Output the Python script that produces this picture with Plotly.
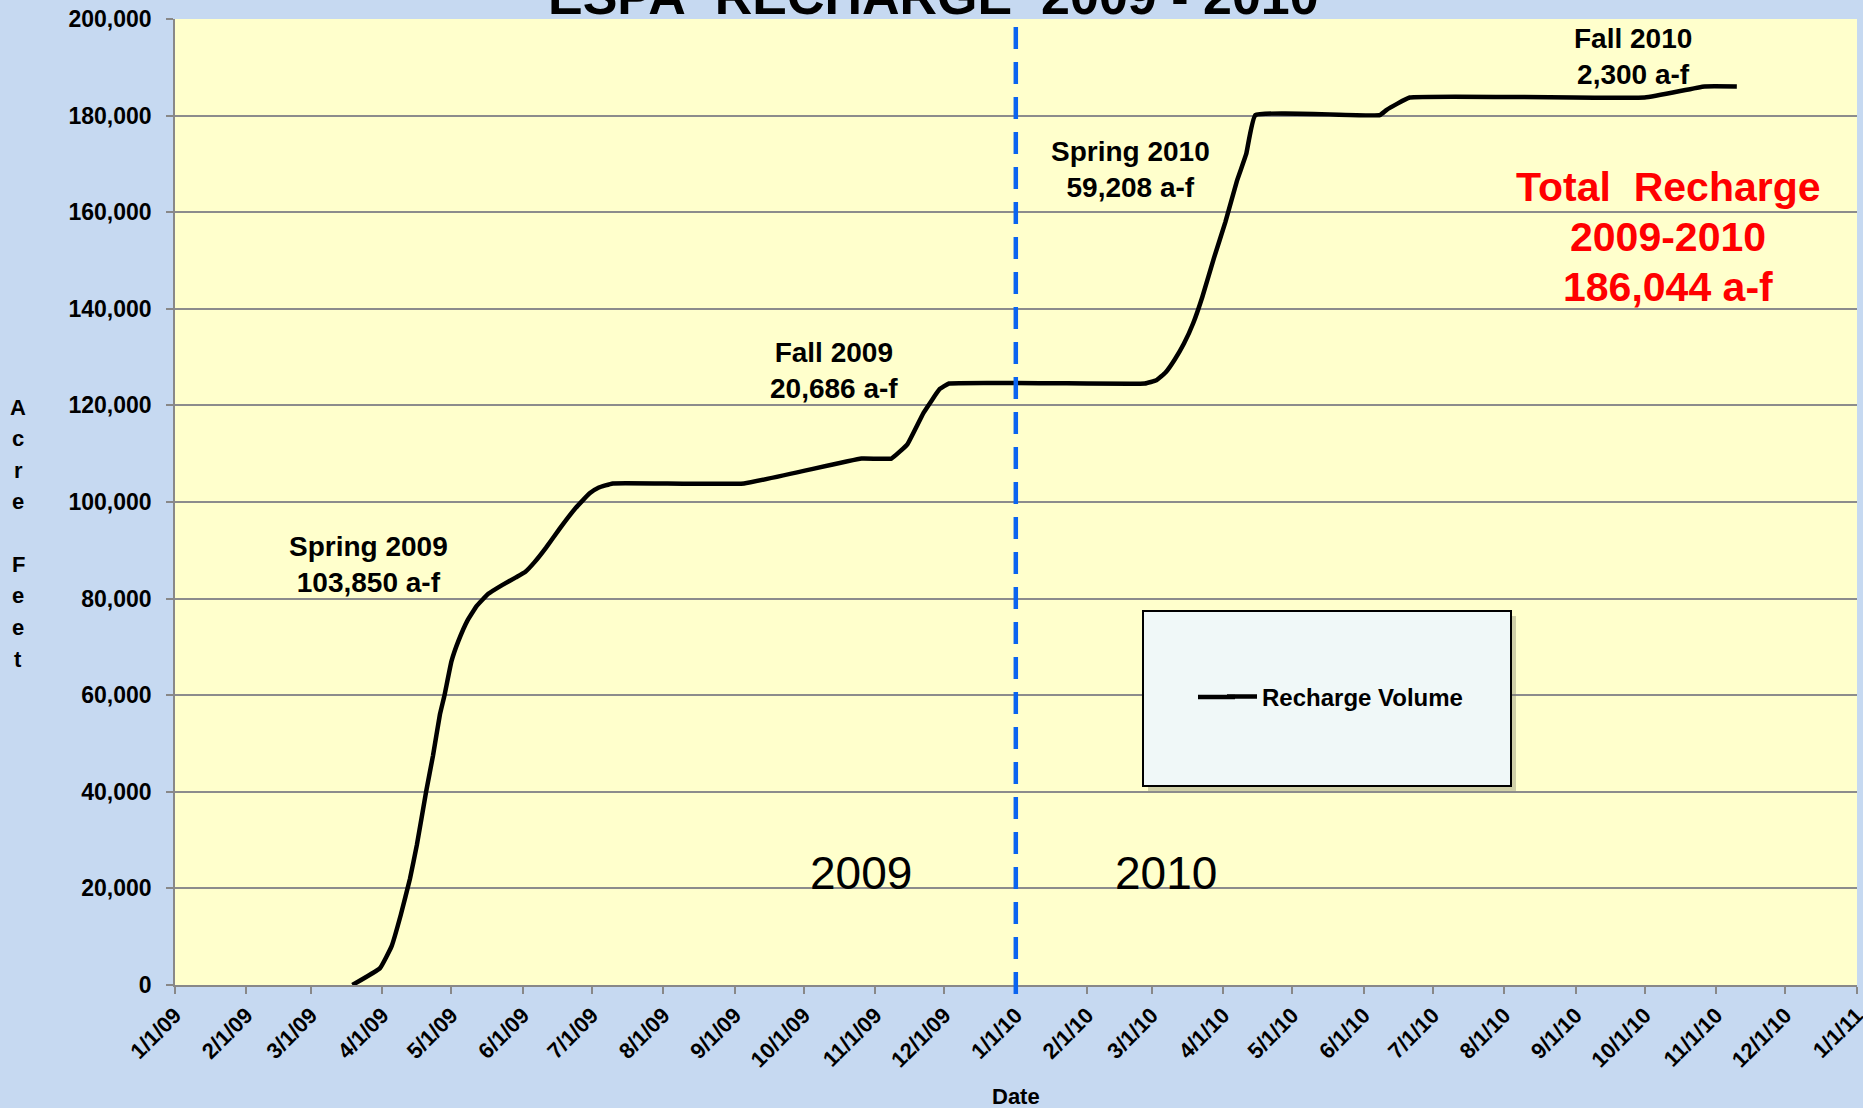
import plotly.graph_objects as go

# ---- data ----
dates = [
    "2009-03-19", "2009-03-31", "2009-04-05", "2009-04-09", "2009-04-13", "2009-04-16",
    "2009-04-20", "2009-04-23", "2009-04-26", "2009-04-28", "2009-05-01", "2009-05-04",
    "2009-05-08", "2009-05-12", "2009-05-17", "2009-05-23", "2009-05-29", "2009-06-02",
    "2009-06-06", "2009-06-11", "2009-06-17", "2009-06-24", "2009-06-30", "2009-07-04",
    "2009-07-10", "2009-09-05", "2009-10-26", "2009-11-08", "2009-11-15", "2009-11-22",
    "2009-11-29", "2009-12-03", "2010-02-26", "2010-03-03", "2010-03-07", "2010-03-11",
    "2010-03-15", "2010-03-19", "2010-03-23", "2010-03-28", "2010-04-02", "2010-04-07",
    "2010-04-11", "2010-04-15", "2010-06-08", "2010-06-11", "2010-06-21", "2010-10-01",
    "2010-10-27", "2010-11-10",
]
recharge = [
    0, 3500, 8000, 14500, 22000, 29000,
    40000, 47500, 56000, 60000, 67000, 71200,
    75500, 78500, 81000, 82800, 84400, 85500,
    87500, 90500, 94500, 98800, 101800, 103000,
    103850, 103850, 109000, 109000, 112000, 118500,
    123400, 124536, 124536, 125200, 126800, 129500,
    132800, 137000, 142500, 150500, 158000, 166500,
    172000, 180100, 180100, 181200, 183744, 183744,
    186044, 186044,
]
series_name = "Recharge Volume"
title_text = "ESPA\u00a0\u00a0RECHARGE\u00a0\u00a02009\u00a0-\u00a02010"
season_labels = ["Spring 2009<br>103,850 a-f", "Fall 2009<br>20,686 a-f",
                 "Spring 2010<br>59,208 a-f", "Fall 2010<br>2,300 a-f"]
season_x = ["2009-03-26", "2009-10-14", "2010-02-20", "2010-09-26"]
season_y = [87000, 127300, 168900, 192250]
year_labels = ["2009", "2010"]
year_x = ["2009-10-26", "2010-03-07"]
total_lines = ["Total\u00a0\u00a0Recharge", "2009-2010", "186,044 a-f"]
divider_date = "2010-01-01"

# ---- figure geometry ----
W, H = 1863, 1108
L, R, T, B = 175, 6, 19, 123
PW, PH = W - L - R, H - T - B

def px_x(p):
    return (p - L) / PW

def px_y(p):
    return (H - B - p) / PH

FONT = "Liberation Sans, Arial, sans-serif"

fig = go.Figure()
fig.add_trace(go.Scatter(
    x=dates, y=recharge, mode="lines", name=series_name,
    line=dict(color="black", width=4.5, shape="spline", smoothing=0.3),
    showlegend=True,
))

annotations = []
# title (partially cut off at top, as in reference)
annotations.append(dict(text="<b>" + title_text + "</b>", xref="paper", yref="paper",
                        x=px_x(933), y=px_y(27), xanchor="center", yanchor="bottom",
                        showarrow=False, font=dict(family=FONT, size=52, color="black")))
for txt, xx, yy in zip(season_labels, season_x, season_y):
    annotations.append(dict(text="<b>" + txt + "</b>", x=xx, y=yy, xref="x", yref="y",
                            xanchor="center", yanchor="middle", showarrow=False,
                            font=dict(family=FONT, size=28, color="black")))
for txt, xx in zip(year_labels, year_x):
    annotations.append(dict(text=txt, x=xx, y=23200, xref="x", yref="y",
                            xanchor="center", yanchor="middle", showarrow=False,
                            font=dict(family=FONT, size=46, color="black")))
for i, txt in enumerate(total_lines):
    annotations.append(dict(text="<b>" + txt + "</b>", xref="paper", yref="paper",
                            x=px_x(1668), y=px_y(187 + 50 * i), xanchor="center",
                            yanchor="middle", showarrow=False,
                            font=dict(family=FONT, size=41, color="#FF0000")))
# vertical y-axis title letters
letters = ["A", "c", "r", "e", "", "F", "e", "e", "t"]
for i, ch in enumerate(letters):
    if ch:
        annotations.append(dict(text="<b>" + ch + "</b>", xref="paper", yref="paper",
                                x=px_x(18), y=px_y(407 + 31.5 * i), xanchor="center",
                                yanchor="middle", showarrow=False,
                                font=dict(family=FONT, size=22, color="black")))
annotations.append(dict(text="<b>Date</b>", xref="paper", yref="paper",
                        x=px_x(1016), y=px_y(1096), xanchor="center", yanchor="middle",
                        showarrow=False, font=dict(family=FONT, size=22, color="black")))

legend_y_px = 697
shapes = [
    # legend box shadow
    dict(type="rect", xref="paper", yref="paper", x0=px_x(1148), x1=px_x(1516),
         y0=px_y(791), y1=px_y(616), fillcolor="rgba(120,120,100,0.35)",
         line=dict(width=0), layer="above"),
    # legend box
    dict(type="rect", xref="paper", yref="paper", x0=px_x(1143), x1=px_x(1511),
         y0=px_y(786), y1=px_y(611), fillcolor="#F0F8F8",
         line=dict(color="black", width=2), layer="above"),
    # extension of legend key line (Excel's key is longer)
    dict(type="line", xref="paper", yref="paper", x0=px_x(1198), x1=px_x(1235),
         y0=px_y(legend_y_px), y1=px_y(legend_y_px),
         line=dict(color="black", width=4.5), layer="above"),
    # dashed divider at 1/1/10
    dict(type="line", xref="x", yref="paper", x0=divider_date, x1=divider_date,
         y0=px_y(994), y1=1, line=dict(color="#0A64F0", width=4.5, dash="22px,13px"),
         layer="above"),
]

fig.update_layout(
    width=W, height=H,
    margin=dict(l=L, r=R, t=T, b=B, pad=0),
    paper_bgcolor="#C6D9F1",
    plot_bgcolor="#FFFFCC",
    font=dict(family=FONT, color="black"),
    annotations=annotations,
    shapes=shapes,
    legend=dict(x=px_x(1222), y=px_y(legend_y_px), xanchor="left", yanchor="middle",
                bgcolor="rgba(0,0,0,0)", borderwidth=0,
                font=dict(family=FONT, size=24, color="black", weight="bold")),
    xaxis=dict(
        type="date", range=["2009-01-01", "2011-01-01 04:00"],
        tick0="2009-01-01", dtick="M1", tickformat="%-m/%-d/%y",
        tickangle=-45, ticks="outside", ticklen=7, tickcolor="#888888", tickwidth=1.5,
        showgrid=False, showline=True, linecolor="#888888", linewidth=1.5,
        tickfont=dict(family=FONT, size=22, color="black", weight="bold"),
        ticklabeloverflow="allow", automargin=False, zeroline=False,
    ),
    yaxis=dict(
        range=[0, 200000], dtick=20000, tickformat=",d",
        ticks="outside", ticklen=7, tickcolor="#888888", tickwidth=1.5,
        showgrid=True, gridcolor="#8C8C8C", gridwidth=1.5,
        showline=True, linecolor="#888888", linewidth=1.5,
        tickfont=dict(family=FONT, size=23, color="black", weight="bold"),
        ticklabelstandoff=10, zeroline=False,
    ),
)

fig.write_html(
    "out.html", config={"displayModeBar": False},
    post_script=(
        "document.documentElement.style.overflow='hidden';"
        "document.body.style.margin='0';document.body.style.overflow='hidden';"
        "var d=document.getElementById('{plot_id}');"
        "d.style.overflow='hidden';d.style.width='1863px';d.style.height='1108px';"
    ),
)
